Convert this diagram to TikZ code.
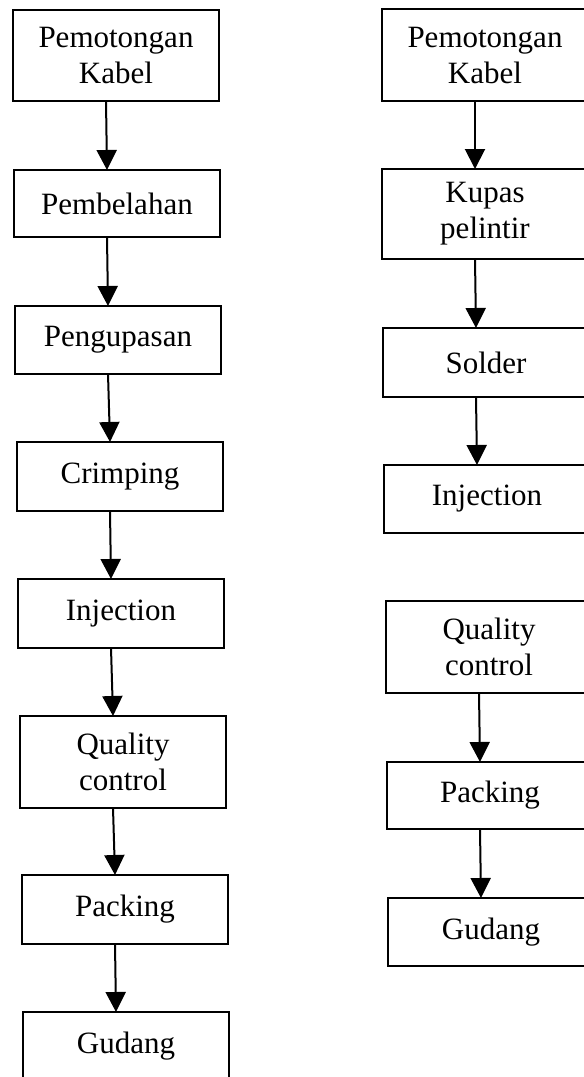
\documentclass[tikz,border=0pt]{standalone}
\usepackage{fontspec}
\setmainfont{Liberation Serif}
\usetikzlibrary{arrows.meta}
\begin{document}
\begin{tikzpicture}[x=1pt,y=-1pt,
  box/.style={draw=black, line width=2pt, rectangle, anchor=north west,
    minimum width=206pt, inner sep=0pt, outer sep=0pt, align=center,
    font=\fontsize{31}{36}\selectfont},
  one/.style={box, minimum height=68pt},
  arr/.style={line width=2pt, -{Triangle[width=20pt,length=20pt]}}]
\useasboundingbox (0,0) rectangle (584,1077);
\clip (0,0) rectangle (584,1077);
% left column
\node[box, minimum height=91pt] (L1) at (13,10)   {Pemotongan\\Kabel};
\node[box, minimum height=67pt] (L2) at (14,170)  {Pembelahan};
\node[one] (L3) at (15,306)  {Pengupasan};
\node[box, minimum height=69pt] (L4) at (17,442)  {Crimping};
\node[box, minimum height=69pt] (L5) at (18,579)  {Injection};
\node[box, minimum height=92pt] (L6) at (20,716)  {Quality\\control};
\node[box, minimum height=69pt] (L7) at (22,875)  {Packing};
\node[box, minimum height=69pt] (L8) at (23,1012) {Gudang};
% right column
\node[box, minimum height=92pt] (R1) at (382,9)   {Pemotongan\\Kabel};
\node[box, minimum height=90pt] (R2) at (382,169) {Kupas\\pelintir};
\node[box, minimum height=69pt] (R3) at (383,328) {Solder};
\node[one] (R4) at (384,465) {Injection};
\node[box, minimum height=92pt] (R5) at (386,601) {Quality\\control};
\node[box, minimum height=67pt] (R6) at (387,762) {Packing};
\node[one] (R7) at (388,898) {Gudang};
% connectors
\foreach \a/\b in {L1/L2,L2/L3,L3/L4,L4/L5,L5/L6,L6/L7,L7/L8,
                   R1/R2,R2/R3,R3/R4,R5/R6,R6/R7}
  \draw[arr] ([xshift=-10pt]\a.south) -- ([xshift=-10pt]\b.north);
\end{tikzpicture}
\end{document}
